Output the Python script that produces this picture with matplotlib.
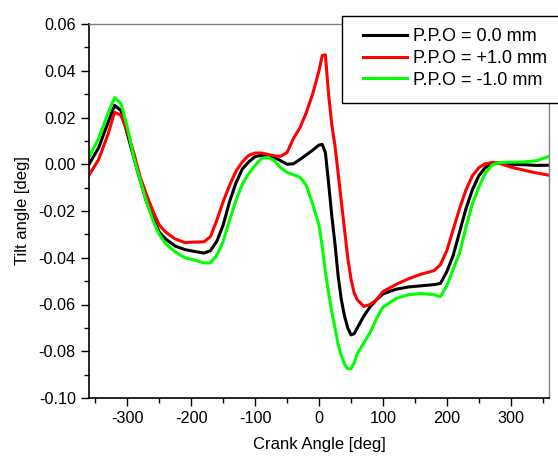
import numpy as np
import matplotlib.pyplot as plt
from matplotlib.ticker import MultipleLocator
from matplotlib.patches import Rectangle

plt.rcParams['font.family'] = ['Liberation Sans', 'DejaVu Sans']

# crank angle [deg]
crank = [-360, -345, -330, -320, -310, -300, -290, -280, -270, -260, -250, -240,
         -225, -210, -195, -180, -170, -160, -150, -140, -130, -120, -110, -100,
         -90, -80, -70, -60, -50, -40, -30, -20, -10, 0, 5, 10, 15, 20, 25, 30,
         35, 40, 45, 50, 55, 60, 70, 80, 90, 100, 120, 140, 160, 180, 190, 200,
         210, 220, 230, 240, 250, 260, 270, 280, 290, 300, 320, 340, 360]

# tilt angle [deg], P.P.O = 0.0 mm
tilt_0 = [0.000, 0.007, 0.018, 0.0252, 0.023, 0.013, 0.003, -0.0068, -0.016, -0.023,
          -0.029, -0.032, -0.035, -0.0365, -0.0373, -0.038, -0.037, -0.033, -0.026,
          -0.016, -0.008, -0.002, 0.001, 0.0033, 0.0038, 0.0037, 0.003, 0.0015, 0.000,
          0.0002, 0.002, 0.004, 0.006, 0.0082, 0.0085, 0.005, -0.008, -0.022, -0.034,
          -0.048, -0.058, -0.065, -0.070, -0.073, -0.0725, -0.070, -0.065, -0.061,
          -0.058, -0.0555, -0.0535, -0.0525, -0.052, -0.0515, -0.051, -0.046, -0.039,
          -0.029, -0.019, -0.011, -0.005, -0.0015, 0.0003, 0.0006, 0.0003, 0.000,
          -0.0002, -0.0005, -0.0004]

# P.P.O = +1.0 mm
tilt_p1 = [-0.0047, 0.002, 0.013, 0.0222, 0.021, 0.014, 0.005, -0.0054, -0.013, -0.020,
           -0.026, -0.029, -0.032, -0.0335, -0.0333, -0.0332, -0.031, -0.024, -0.016,
           -0.009, -0.003, 0.001, 0.0038, 0.0048, 0.0048, 0.0042, 0.0036, 0.0034, 0.005,
           0.011, 0.0155, 0.022, 0.030, 0.040, 0.0465, 0.0468, 0.030, 0.017, 0.008,
           -0.004, -0.016, -0.028, -0.040, -0.049, -0.055, -0.058, -0.0608, -0.060,
           -0.058, -0.0545, -0.0515, -0.049, -0.047, -0.0455, -0.043, -0.037, -0.028,
           -0.019, -0.011, -0.005, -0.0015, 0.0002, 0.0007, 0.0006, -0.0003, -0.0012,
           -0.0025, -0.0037, -0.0047]

# P.P.O = -1.0 mm
tilt_m1 = [0.0031, 0.011, 0.022, 0.0285, 0.026, 0.016, 0.003, -0.0068, -0.016, -0.024,
           -0.030, -0.034, -0.0375, -0.040, -0.041, -0.0422, -0.0422, -0.039, -0.033,
           -0.024, -0.0155, -0.0085, -0.004, -0.0005, 0.0025, 0.0030, 0.0015, -0.0015,
           -0.0035, -0.0045, -0.0055, -0.009, -0.017, -0.026, -0.035, -0.046, -0.055,
           -0.063, -0.070, -0.077, -0.082, -0.0855, -0.0875, -0.0875, -0.085, -0.081,
           -0.0765, -0.072, -0.066, -0.0612, -0.0575, -0.0558, -0.0553, -0.0558, -0.0566,
           -0.052, -0.045, -0.038, -0.027, -0.017, -0.010, -0.004, -0.0005, 0.0006,
           0.0008, 0.0009, 0.001, 0.0015, 0.0034]

labels = ['P.P.O = 0.0 mm', 'P.P.O = +1.0 mm', 'P.P.O = -1.0 mm']
colors = ['#000000', '#ff0000', '#00ff00']

fig = plt.figure(figsize=(5.58, 4.62), dpi=100)
ax = fig.add_axes([89 / 558, 1 - 398 / 462, 460 / 558, 374 / 462])

lines = []
for y, c, lab in zip([tilt_0, tilt_p1, tilt_m1], colors, labels):
    ln, = ax.plot(crank, y, color=c, lw=2.2, label=lab)
    lines.append(ln)

ax.set_xlim(-360, 360)
ax.set_ylim(-0.10, 0.06)
ax.xaxis.set_major_locator(MultipleLocator(100))
ax.xaxis.set_minor_locator(MultipleLocator(50))
ax.yaxis.set_major_locator(MultipleLocator(0.02))
ax.yaxis.set_minor_locator(MultipleLocator(0.01))
ax.yaxis.set_major_formatter(plt.FuncFormatter(lambda v, p: f'{round(v, 2) + 0.0:.2f}'))
ax.xaxis.set_major_formatter(plt.FuncFormatter(lambda v, p: f'{v:.0f}'))

ax.tick_params(which='both', direction='out', top=False, right=False, labelsize=11.7)
ax.tick_params(which='major', length=6, width=1)
ax.tick_params(which='minor', length=3.5, width=1)
for s in ['left', 'bottom']:
    ax.spines[s].set_linewidth(1.2)
for s in ['top', 'right']:
    ax.spines[s].set_color('#808080')
    ax.spines[s].set_linewidth(1)

ax.set_xlabel('Crank Angle [deg]', fontsize=12, labelpad=8)
ax.set_ylabel('Tilt angle [deg]', fontsize=12, labelpad=6)

# legend box sits over the top right corner and runs off the figure
box = Rectangle((342 / 558, 1 - 103 / 462), 0.5, 87 / 462, transform=fig.transFigure,
                facecolor='white', edgecolor='black', lw=1, zorder=5)
fig.patches.append(box)

leg = fig.legend(handles=lines, loc='upper left', bbox_to_anchor=(363 / 558, 1 - 28 / 462),
                 fontsize=13, frameon=False, handlelength=2.45,
                 labelspacing=0.27, borderpad=0, handletextpad=0.3, borderaxespad=0)
leg.set_zorder(6)

fig.savefig('out.png', dpi=100)
